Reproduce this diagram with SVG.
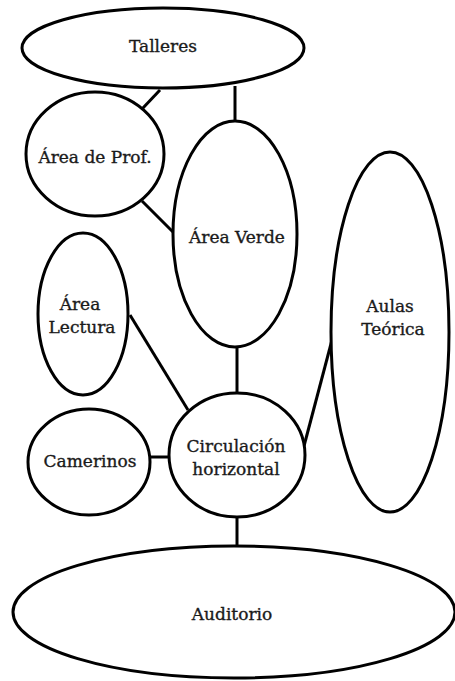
<svg xmlns="http://www.w3.org/2000/svg" width="455" height="681" viewBox="0 0 455 681">
<style>
.n{fill:#fff;stroke:#000;stroke-width:3}
.c{stroke:#000;stroke-width:3;fill:none}
.t{font-family:"DejaVu Serif","Liberation Serif",serif;font-size:17px;fill:#1a1a1a;stroke:#1a1a1a;stroke-width:0.35;text-anchor:middle}
</style>
<rect width="455" height="681" fill="#fff"/>
<g id="connectors">
<line class="c" x1="160" y1="90" x2="142" y2="109"/>
<line class="c" x1="235" y1="86" x2="235" y2="122"/>
<line class="c" x1="142" y1="201" x2="173" y2="232"/>
<line class="c" x1="130" y1="315" x2="188" y2="410"/>
<line class="c" x1="237" y1="346" x2="237" y2="394"/>
<line class="c" x1="149" y1="457" x2="169" y2="457"/>
<line class="c" x1="304" y1="446" x2="332" y2="340"/>
<line class="c" x1="237" y1="516" x2="237" y2="547"/>
</g>
<g id="talleres"><ellipse class="n" cx="163" cy="48" rx="141" ry="40"/><text class="t" x="163" y="52">Talleres</text></g>
<g id="area-prof"><ellipse class="n" cx="95" cy="154" rx="69" ry="62"/><text class="t" x="95" y="163">Área de Prof.</text></g>
<g id="area-verde"><ellipse class="n" cx="235" cy="234" rx="62" ry="113"/><text class="t" x="237" y="243">Área Verde</text></g>
<g id="area-lectura"><ellipse class="n" cx="83" cy="314" rx="45" ry="81"/><text class="t" x="80" y="310">Área</text><text class="t" x="82" y="333">Lectura</text></g>
<g id="aulas"><ellipse class="n" cx="390" cy="332" rx="59" ry="180"/><text class="t" x="390" y="312">Aulas</text><text class="t" x="393" y="335">Teórica</text></g>
<g id="camerinos"><ellipse class="n" cx="89" cy="462" rx="61" ry="53"/><text class="t" x="90" y="467">Camerinos</text></g>
<g id="circulacion"><ellipse class="n" cx="237" cy="455" rx="68" ry="62"/><text class="t" x="236" y="452">Circulación</text><text class="t" x="236" y="475">horizontal</text></g>
<g id="auditorio"><ellipse class="n" cx="234" cy="612" rx="221" ry="66"/><text class="t" x="232" y="620">Auditorio</text></g>
</svg>
